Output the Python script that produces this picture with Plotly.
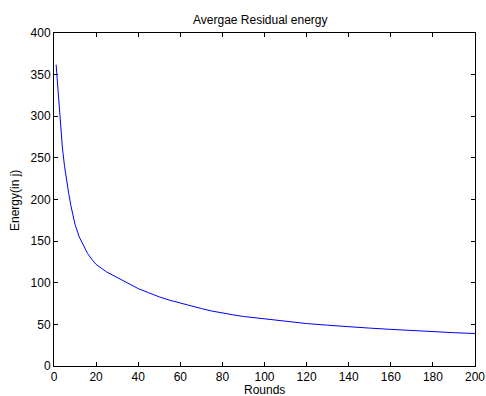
import plotly.graph_objects as go

rounds = [1, 2, 3, 4, 5, 6, 7, 8, 9, 10, 12, 14, 16, 18, 20, 25, 30, 35, 40, 45,
          50, 55, 60, 65, 70, 75, 80, 85, 90, 95, 100, 110, 120, 130, 140, 150,
          160, 170, 180, 190, 200]
energy = [362, 325, 290, 262, 240, 222, 207, 193, 181, 170, 155, 144, 135, 128,
          122, 113, 106, 99, 93, 88, 83, 79, 75.5, 72, 69, 66, 63.5, 61.5, 59.5,
          58, 56.5, 53.5, 51, 49, 47, 45.5, 44, 42.5, 41, 40, 39]

x_ticks = [0, 20, 40, 60, 80, 100, 120, 140, 160, 180, 200]
y_ticks = [0, 50, 100, 150, 200, 250, 300, 350, 400]

title_text = "Avergae Residual energy"
x_title = "Rounds"
y_title = "Energy(in j)"

W, H = 486, 396
L, R, T, B = 54, 11, 33, 30
FONT = "Liberation Sans, Arial, sans-serif"

fig = go.Figure()
fig.add_trace(go.Scatter(x=rounds, y=energy, mode="lines",
                         line=dict(color="rgb(0,0,255)", width=1),
                         showlegend=False, hoverinfo="skip"))

axis_common = dict(showgrid=False, zeroline=False, showline=True,
                   linecolor="black", linewidth=1, mirror="ticks",
                   ticks="inside", ticklen=4, tickcolor="black", tickwidth=1,
                   automargin=False,
                   tickfont=dict(family=FONT, size=12, color="black"))

fig.update_xaxes(range=[0, 200], tickvals=x_ticks, **axis_common)
fig.update_yaxes(range=[0, 400], tickvals=y_ticks, **axis_common)

pw = W - L - R
ph = H - T - B
def px_x(p):
    return (p - L) / pw
def px_y(p):
    return (H - B - p) / ph

fig.update_layout(
    width=W, height=H,
    margin=dict(l=L, r=R, t=T, b=B, pad=0),
    paper_bgcolor="white", plot_bgcolor="white",
    font=dict(family=FONT, size=12, color="black"),
    annotations=[
        dict(text=title_text, x=px_x(260), y=px_y(20), xref="paper", yref="paper",
             showarrow=False, xanchor="center", yanchor="middle",
             font=dict(family=FONT, size=12, color="black")),
        dict(text=x_title, x=px_x(264), y=px_y(390), xref="paper", yref="paper",
             showarrow=False, xanchor="center", yanchor="middle",
             font=dict(family=FONT, size=12, color="black")),
        dict(text=y_title, x=px_x(15), y=px_y(201), xref="paper", yref="paper",
             showarrow=False, xanchor="center", yanchor="middle", textangle=-90,
             font=dict(family=FONT, size=12, color="black")),
    ],
)

fig.write_html("out.html", config={"displayModeBar": False},
               post_script="document.body.style.margin='0';document.body.style.overflow='hidden';")
